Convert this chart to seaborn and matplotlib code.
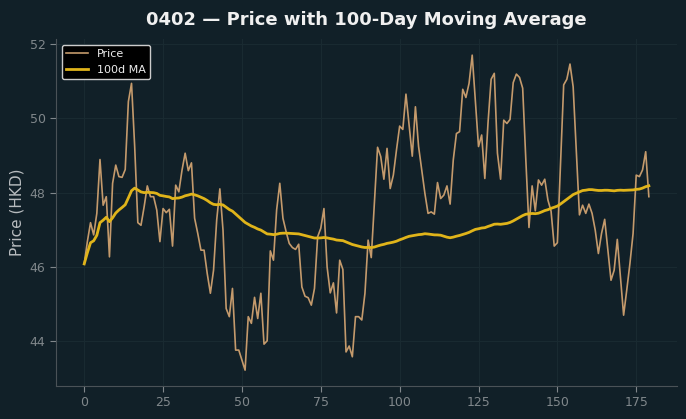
import numpy as np
import matplotlib
matplotlib.use("Agg")
import matplotlib.pyplot as plt
import seaborn as sns
import pandas as pd

# precio diario (indice de dia 0..179)
price = [
    46.08, 46.68, 47.19, 46.86, 47.44, 48.89, 47.66, 47.89, 46.27, 48.25,
    48.74, 48.43, 48.41, 48.62, 50.45, 50.94, 49.24, 47.19, 47.12, 47.62,
    48.18, 47.89, 47.89, 47.53, 46.68, 47.57, 47.46, 47.55, 46.56, 48.20,
    48.02, 48.60, 49.06, 48.59, 48.80, 47.31, 46.90, 46.45, 46.45, 45.82,
    45.29, 45.91, 47.26, 48.10, 46.99, 44.88, 44.66, 45.42, 43.76, 43.76,
    43.49, 43.22, 44.66, 44.48, 45.18, 44.61, 45.29, 43.92, 44.01, 46.43,
    46.18, 47.53, 48.25, 47.31, 46.95, 46.63, 46.52, 46.47, 46.61, 45.46,
    45.21, 45.17, 44.97, 45.42, 46.81, 47.04, 47.57, 46.00, 45.30, 45.57,
    44.76, 46.18, 45.93, 43.71, 43.87, 43.58, 44.66, 44.66, 44.57, 45.29,
    46.72, 46.25, 47.71, 49.22, 48.97, 48.36, 49.19, 48.11, 48.47, 49.15,
    49.79, 49.70, 50.65, 49.82, 48.98, 50.31, 49.24, 48.61, 47.98, 47.44,
    47.48, 47.42, 48.27, 47.84, 47.93, 48.18, 47.69, 48.88, 49.59, 49.64,
    50.78, 50.56, 50.94, 51.70, 50.49, 49.24, 49.55, 48.38, 49.86, 51.05,
    51.21, 49.06, 48.36, 49.95, 49.86, 49.97, 50.96, 51.19, 51.10, 50.81,
    48.88, 47.06, 48.18, 47.51, 48.34, 48.20, 48.36, 47.80, 47.50, 46.56,
    46.65, 48.80, 50.90, 51.05, 51.46, 50.85, 49.10, 47.40, 47.66, 47.44,
    47.69, 47.44, 46.99, 46.36, 46.90, 47.28, 46.45, 45.64, 45.91, 46.74,
    45.72, 44.70, 45.38, 46.09, 46.90, 48.47, 48.43, 48.61, 49.10, 47.89,
]
day = list(range(len(price)))
window = 100

df = pd.DataFrame({"day": day, "price": price})
df["ma"] = df["price"].rolling(window, min_periods=1).mean()

bg = "#112028"
fig, ax = plt.subplots(figsize=(6.86, 4.19), dpi=100)
fig.patch.set_facecolor(bg)
ax.set_facecolor(bg)
fig.subplots_adjust(left=0.0816, right=0.987, bottom=0.079, top=0.906)

sns.lineplot(data=df, x="day", y="price", color="#c49a6c", linewidth=1.2,
             label="Price", ax=ax)
sns.lineplot(data=df, x="day", y="ma", color="#e0b41a", linewidth=2,
             label=f"{window}d MA", ax=ax)

ax.grid(True, color="#192a31", linewidth=0.8)
ax.set_axisbelow(True)
for s in ["top", "right"]:
    ax.spines[s].set_visible(False)
for s in ["left", "bottom"]:
    ax.spines[s].set_color("#4a5257")
ax.tick_params(colors="#80878b", labelsize=9, length=4)
ax.set_xlabel("")
ax.set_ylabel("Price (HKD)", color="#b8bcbf", fontsize=11)
ax.set_title("0402 — Price with 100-Day Moving Average", color="#f0f0f0",
             fontsize=13, fontweight="bold", pad=10)
ax.set_yticks([44, 46, 48, 50, 52])

leg = ax.legend(loc="upper left", facecolor="black", edgecolor="#cccccc",
                fontsize=8, framealpha=1)
for t in leg.get_texts():
    t.set_color("#eeeeee")

fig.savefig("out.png", dpi=100, facecolor=bg)
